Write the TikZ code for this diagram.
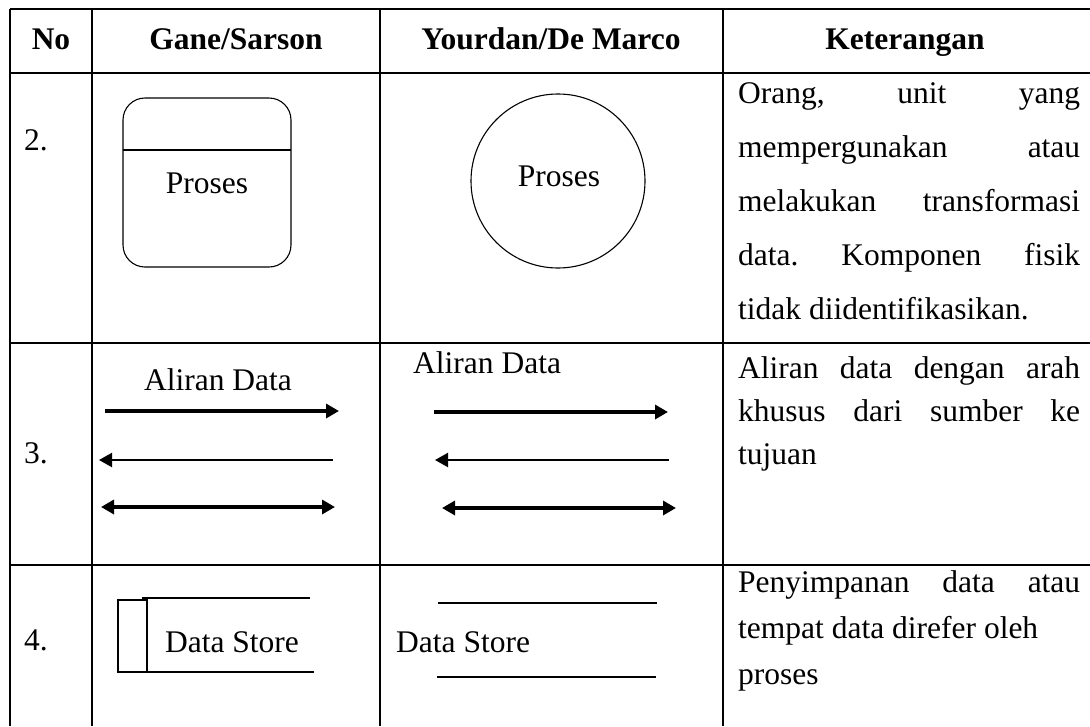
\documentclass[tikz,border=0pt]{standalone}
\usepackage{fontspec}
\setmainfont{Liberation Serif}
\usetikzlibrary{arrows.meta}
\tikzset{% default arrow tips
    >={Triangle[length=13pt,width=14pt]}
}
\tikzset{
    gridline/.style={line width=2.6pt},
    shapeline/.style={line width=1.1pt},
    flow/.style={line width=3.6pt},
    thinflow/.style={line width=2.2pt},
    txt/.style={inner sep=0pt, anchor=base},
    head/.style={txt, font=\fontsize{31.5}{54}\selectfont\bfseries},
    ket/.style={inner sep=0pt, anchor=base west},
}
\newcommand{\jline}[1]{\makebox[342pt][s]{#1}}

\begin{document}
\frenchspacing
\begin{tikzpicture}[x=1pt, y=-1pt, font=\fontsize{31.5}{54}\selectfont]
    \useasboundingbox (0,0) rectangle (1090,726);
    \newcommand{\colA}{10}
    \newcommand{\colB}{92}
    \newcommand{\colC}{380}
    \newcommand{\colD}{723}

    % table lines
    \draw[gridline] (\colA,9) -- (1090,9);
    \draw[gridline] (\colA,73) -- (1090,73);
    \draw[gridline] (\colA,343) -- (1090,343);
    \draw[gridline] (\colA,565) -- (1090,565);
    \draw[gridline] (\colA,9) -- (\colA,726);
    \draw[gridline] (\colB,9) -- (\colB,726);
    \draw[gridline] (\colC,9) -- (\colC,726);
    \draw[gridline] (\colD,9) -- (\colD,726);

    % header
    \node (hNo) [head] at (51,49) {No};
    \node (hGane) [head] at (236,49) {Gane/Sarson};
    \node (hYour) [head] at (551,49) {Yourdan/De Marco};
    \node (hKet) [head] at (905,49) {Keterangan};

    % row 2: proses
    \node (no2) [ket] at (24,150) {2.};
    \draw[shapeline, rounded corners=22pt] (123,98) rectangle (291,267);
    \draw[shapeline] (123,150) -- (291,150);
    \node (gProses) [txt] at (207,193) {Proses};
    \draw[shapeline] (558,181) circle (87);
    \node (yProses) [txt] at (559,186) {Proses};
    \node (ket21) [ket] at (738,103) {\jline{Orang, unit yang}};
    \node (ket22) [ket] at (738,157) {\jline{mempergunakan atau}};
    \node (ket23) [ket] at (738,211) {\jline{melakukan transformasi}};
    \node (ket24) [ket] at (738,265) {\jline{data. Komponen fisik}};
    \node (ket25) [ket] at (738,319) {tidak diidentifikasikan.};

    % row 3: aliran data
    \node (no3) [ket] at (24,463) {3.};
    \node (gAliran) [txt] at (218,390) {Aliran Data};
    \coordinate (gA1s) at (105,411);
    \coordinate (gA1e) at (339,411);
    \coordinate (gA2s) at (333,460);
    \coordinate (gA2e) at (99,460);
    \coordinate (gA3s) at (101,507);
    \coordinate (gA3e) at (335,507);
    \draw[flow,->] (gA1s) -- (gA1e);
    \draw[thinflow,->] (gA2s) -- (gA2e);
    \draw[flow,<->] (gA3s) -- (gA3e);
    \node (yAliran) [ket] at (413,373) {Aliran Data};
    \coordinate (yA1s) at (434,412);
    \coordinate (yA1e) at (668,412);
    \coordinate (yA2s) at (669,460);
    \coordinate (yA2e) at (435,460);
    \coordinate (yA3s) at (442,508);
    \coordinate (yA3e) at (676,508);
    \draw[flow,->] (yA1s) -- (yA1e);
    \draw[thinflow,->] (yA2s) -- (yA2e);
    \draw[flow,<->] (yA3s) -- (yA3e);
    \node (ket31) [ket] at (738,378) {\jline{Aliran data dengan arah}};
    \node (ket32) [ket] at (738,421) {\jline{khusus dari sumber ke}};
    \node (ket33) [ket] at (738,464) {tujuan};

    % row 4: data store
    \node (no4) [ket] at (24,650) {4.};
    \draw[shapeline] (118,600) rectangle (147,672);
    \draw[shapeline] (142,598) -- (310,598);
    \draw[shapeline] (147,672) -- (314,672);
    \node (gStore) [txt] at (232,652) {Data Store};
    \draw[shapeline] (438,603) -- (657,603);
    \draw[shapeline] (437,677) -- (656,677);
    \node (yStore) [ket] at (396,652) {Data Store};
    \node (ket41) [ket] at (738,592) {\jline{Penyimpanan data atau}};
    \node (ket42) [ket] at (738,638) {tempat data direfer oleh};
    \node (ket43) [ket] at (738,684) {proses};
\end{tikzpicture}
\end{document}
